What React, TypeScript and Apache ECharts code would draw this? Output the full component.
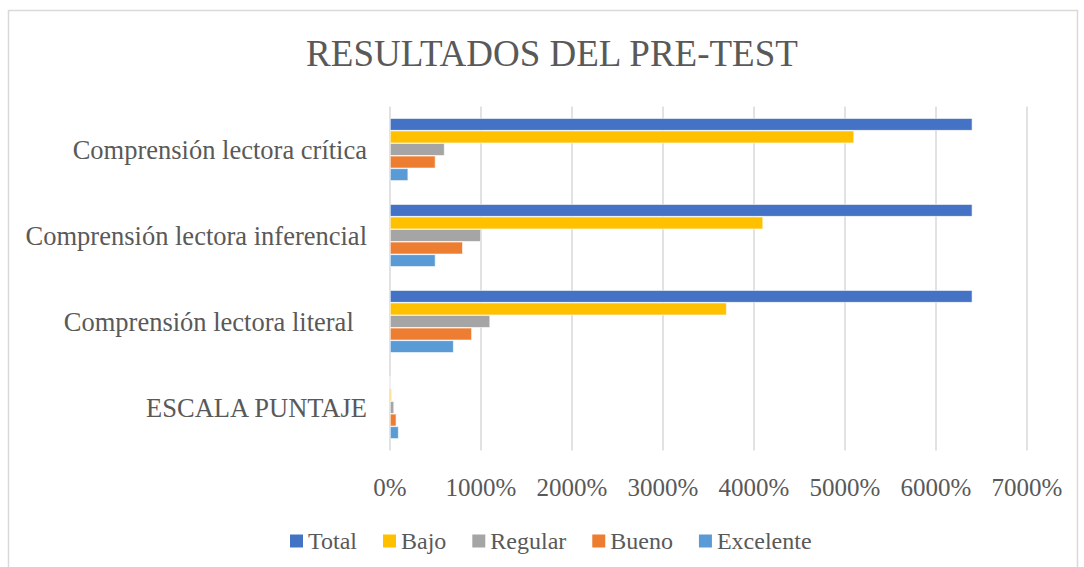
import React, { useEffect, useRef } from "react";
import * as echarts from "echarts";

const categories = [
  "ESCALA PUNTAJE",
  "Comprensión lectora literal  ",
  "Comprensión lectora inferencial",
  "Comprensión lectora crítica",
];
const legendOrder = ["Total", "Bajo", "Regular", "Bueno", "Excelente"];
const total = [0, 6400, 6400, 6400];
const bajo = [20, 3700, 4100, 5100];
const regular = [45, 1100, 1000, 600];
const bueno = [70, 900, 800, 500];
const excelente = [95, 700, 500, 200];

const FONT = "'Liberation Serif', 'Times New Roman', serif";
const TEXT = "#595959";

export default function App() {
  const ref = useRef<HTMLDivElement>(null);
  useEffect(() => {
    if (!ref.current) return;
    const chart = echarts.init(ref.current, null, { renderer: "svg" });
    const mk = (name: string, data: number[], color: string) => ({
      name,
      type: "bar",
      data,
      barGap: "0%",
      barCategoryGap: "27%",
      itemStyle: { color, borderColor: "#ffffff", borderWidth: 0.6 },
    });
    chart.setOption({
      animation: false,
      backgroundColor: "#ffffff",
      textStyle: { fontFamily: FONT },
      title: {
        text: "RESULTADOS DEL PRE-TEST",
        left: 547,
        top: 30,
        textAlign: "center",
        textStyle: { fontFamily: FONT, fontSize: 37, fontWeight: "normal", color: TEXT },
      },
      graphic: [
        {
          type: "rect",
          shape: { x: 8.5, y: 10.5, width: 1069, height: 620 },
          style: { fill: "none", stroke: "#d9d9d9", lineWidth: 1.5 },
          silent: true,
        },
      ],
      legend: {
        data: legendOrder,
        left: 290,
        top: 529,
        padding: 0,
        icon: "rect",
        itemWidth: 13,
        itemHeight: 13,
        itemGap: 26,
        itemStyle: { borderWidth: 0 },
        textStyle: { fontFamily: FONT, fontSize: 24, color: TEXT },
      },
      grid: { left: 390, right: 57, top: 106.5, bottom: 116.5, containLabel: false },
      xAxis: {
        type: "value",
        min: 0,
        max: 7000,
        interval: 1000,
        axisLine: { show: false },
        axisTick: { show: false },
        splitLine: { show: true, lineStyle: { color: "#d9d9d9", width: 1.5 } },
        axisLabel: {
          formatter: (v: number) => `${v}%`,
          margin: 24,
          fontFamily: FONT,
          fontSize: 25,
          color: TEXT,
        },
      },
      yAxis: {
        type: "category",
        data: categories,
        axisLine: { show: false },
        axisTick: { show: false },
        axisLabel: { margin: 23, fontFamily: FONT, fontSize: 26.5, color: TEXT },
      },
      series: [
        mk("Total", total, "#4472C4"),
        mk("Bajo", bajo, "#FFC000"),
        mk("Regular", regular, "#A5A5A5"),
        mk("Bueno", bueno, "#ED7D31"),
        mk("Excelente", excelente, "#5B9BD5"),
      ],
    });
    return () => chart.dispose();
  }, []);
  return (
    <div
      ref={ref}
      style={{ position: "fixed", left: 0, top: 0, width: 1084, height: 567 }}
    />
  );
}
